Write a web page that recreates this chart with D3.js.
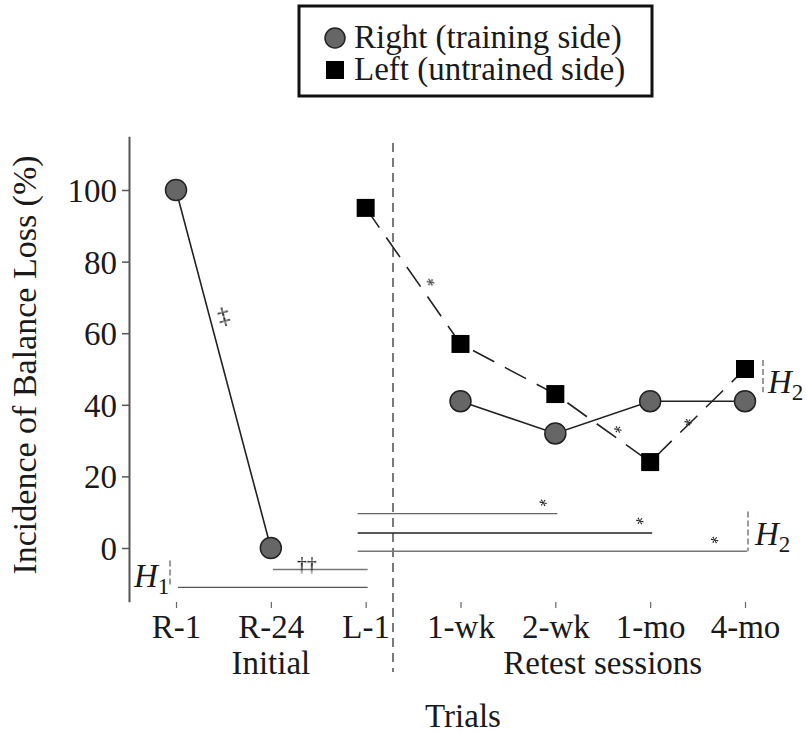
<!DOCTYPE html>
<html>
<head>
<meta charset="utf-8">
<script src="https://cdn.jsdelivr.net/npm/d3@7"></script>
<style>
  body { margin: 0; background: #fff; }
  text { font-family: "Liberation Serif", "Times New Roman", serif; fill: #1a1a1a; }
</style>
</head>
<body>
<svg id="chart" width="807" height="734"></svg>
<script>
// trials on the x axis
var trials = ["R-1", "R-24", "L-1", "1-wk", "2-wk", "1-mo", "4-mo"];
var yTicks = [0, 20, 40, 60, 80, 100];

// Right (training side): null = not measured
var rightValues = [100, 0, null, 41, 32, 41, 41];
// Left (untrained side)
var leftValues = [null, null, 95, 57, 43, 24, 50];

// significance bars: [from, to, level, colour]
var sigBars = [
  ["R-24", "L-1", -6, "#777"],
  ["R-1", "L-1", -11, "#555"],
  ["L-1", "2-wk", 9.6, "#666"],
  ["L-1", "1-mo", 4.2, "#222"],
  ["L-1", "4-mo", -0.9, "#777"]
];
// symbols placed on the chart: [label, x position (trial index), value, rotate]
var marks = [
  ["‡", 0.5, 65, -15],
  ["*", 2.65, 73, 36],
  ["*", 4.63, 32, 36],
  ["*", 5.37, 34, 36],
  ["††", 1.38, -4.5, 1],
  ["*", 3.84, 11.5, 36],
  ["*", 4.86, 6.4, 36],
  ["*", 5.65, 1.1, 36]
];

var FS = 33;
var svg = d3.select("#chart");

var x = d3.scalePoint().domain(trials).range([176, 745]);
var xi = d3.scaleLinear().domain([0, trials.length - 1]).range([176, 745]);
var y = d3.scaleLinear().domain([-15, 115]).range([601.7, 136.3]);

// y axis
var yAxis = svg.append("g")
  .attr("transform", "translate(129,0)")
  .call(d3.axisLeft(y).tickValues(yTicks).tickSize(7).tickSizeOuter(0).tickPadding(5));
yAxis.select(".domain").attr("stroke", "#555").attr("stroke-width", 2);
yAxis.selectAll(".tick line").attr("stroke", "#555").attr("stroke-width", 1.5);
yAxis.selectAll(".tick text")
  .attr("font-family", "Liberation Serif").attr("font-size", FS).attr("fill", "#1a1a1a")
  .attr("dy", "0.35em");

// x axis (ticks only, no line)
var xAxis = svg.append("g")
  .attr("transform", "translate(0,602)")
  .call(d3.axisBottom(x).tickSize(6));
xAxis.select(".domain").remove();
xAxis.selectAll(".tick line").attr("stroke", "#666").attr("stroke-width", 1.2);
xAxis.selectAll(".tick text")
  .attr("font-family", "Liberation Serif").attr("font-size", FS).attr("fill", "#1a1a1a")
  .attr("y", 36).attr("dy", 0);

// session divider
svg.append("line")
  .attr("x1", 393).attr("x2", 393).attr("y1", 143).attr("y2", 672)
  .attr("stroke", "#333").attr("stroke-width", 1.3).attr("stroke-dasharray", "9,6");

// group labels
svg.append("text").attr("x", (x("R-1") + x("L-1")) / 2).attr("y", 674)
  .attr("text-anchor", "middle").attr("font-size", FS).text("Initial");
svg.append("text").attr("x", (x("1-wk") + x("4-mo")) / 2).attr("y", 674)
  .attr("text-anchor", "middle").attr("font-size", FS).text("Retest sessions");
svg.append("text").attr("x", 463).attr("y", 727)
  .attr("text-anchor", "middle").attr("font-size", FS).text("Trials");
svg.append("text").attr("transform", "translate(36,365) rotate(-90)")
  .attr("text-anchor", "middle").attr("font-size", 34).text("Incidence of Balance Loss (%)");

// significance bars
svg.append("g").selectAll("line")
  .data(sigBars)
  .join("line")
  .attr("x1", function (d) { return d[0] === "L-1" ? x(d[0]) - 8 : x(d[0]) + 2; })
  .attr("x2", function (d) { return x(d[1]) + 2; })
  .attr("y1", function (d) { return y(d[2]); })
  .attr("y2", function (d) { return y(d[2]); })
  .attr("stroke", function (d) { return d[3]; })
  .attr("stroke-width", 1.4);

// H brackets
function hLabel(px, py, sub) {
  var t = svg.append("text").attr("x", px).attr("y", py).attr("font-size", FS);
  t.append("tspan").attr("font-style", "italic").text("H");
  t.append("tspan").attr("font-size", 23).attr("dy", 7).text(sub);
}
function hTick(px, y1, y2) {
  svg.append("line").attr("x1", px).attr("x2", px).attr("y1", y1).attr("y2", y2)
    .attr("stroke", "#666").attr("stroke-width", 1.3).attr("stroke-dasharray", "6,3");
}
hTick(170, y(-3.5), y(-11));
hLabel(134, 587, "1");
hTick(748, y(10.2), y(-0.9));
hLabel(755, 545, "2");
hTick(763, y(52.5), y(43.5));
hLabel(768, 393, "2");

// series lines
var line = d3.line()
  .defined(function (d) { return d !== null; })
  .x(function (d, i) { return x(trials[i]); })
  .y(function (d) { return y(d); });

svg.append("path").datum(rightValues)
  .attr("d", line).attr("fill", "none").attr("stroke", "#222").attr("stroke-width", 1.6);
svg.append("path").datum(leftValues)
  .attr("d", line).attr("fill", "none").attr("stroke", "#222").attr("stroke-width", 1.6)
  .attr("stroke-dasharray", "24,12");

// markers
var pts = function (vals) {
  return vals.map(function (v, i) { return { t: trials[i], v: v }; })
    .filter(function (d) { return d.v !== null; });
};
svg.append("g").selectAll("rect")
  .data(pts(leftValues))
  .join("rect")
  .attr("x", function (d) { return x(d.t) - 9; })
  .attr("y", function (d) { return y(d.v) - 9; })
  .attr("width", 18).attr("height", 18)
  .attr("fill", "#000");
svg.append("g").selectAll("circle")
  .data(pts(rightValues))
  .join("circle")
  .attr("cx", function (d) { return x(d.t); })
  .attr("cy", function (d) { return y(d.v); })
  .attr("r", 10.5)
  .attr("fill", "#666").attr("stroke", "#222").attr("stroke-width", 1.5);

// annotation symbols (rotated so they are drawn with grey antialiasing)
svg.append("g").attr("opacity", 0.99).selectAll("text")
  .data(marks)
  .join("text")
  .attr("transform", function (d) {
    return "translate(" + xi(d[1]) + "," + y(d[2]) + ") rotate(" + d[3] + ")";
  })
  .attr("text-anchor", "middle")
  .attr("font-size", function (d) { return d[0] === "*" ? 18 : (d[0] === "‡" ? 24 : 20); })
  .attr("fill", "#000")
  .attr("dy", function (d) { return d[0] === "*" ? "0.2em" : "0.35em"; })
  .text(function (d) { return d[0]; });

// legend
var lg = svg.append("g");
lg.append("rect").attr("x", 299).attr("y", 6).attr("width", 353).attr("height", 90)
  .attr("fill", "#fff").attr("stroke", "#111").attr("stroke-width", 3);
lg.append("circle").attr("cx", 335).attr("cy", 38).attr("r", 10)
  .attr("fill", "#666").attr("stroke", "#222").attr("stroke-width", 1.5);
lg.append("rect").attr("x", 326).attr("y", 61).attr("width", 18).attr("height", 18).attr("fill", "#000");
lg.append("text").attr("x", 354).attr("y", 48).attr("font-size", FS).text("Right (training side)");
lg.append("text").attr("x", 354).attr("y", 80).attr("font-size", FS).text("Left (untrained side)");
</script>
</body>
</html>
